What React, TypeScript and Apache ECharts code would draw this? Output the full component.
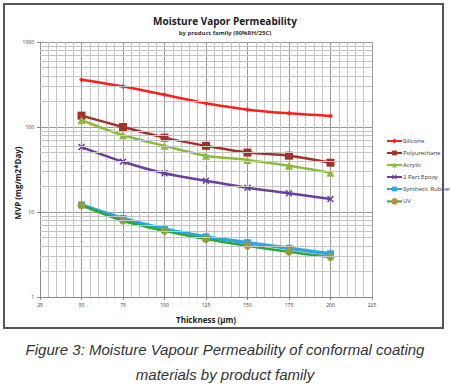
import React, { useEffect, useRef } from "react";
import * as echarts from "echarts";

const thickness = [50, 75, 100, 125, 150, 175, 200];
const silicone = [360, 300, 240, 190, 160, 145, 135];
const polyurethane = [136, 100, 75, 60, 50, 46, 38];
const acrylic = [120, 80, 60, 46, 41, 35, 29];
const epoxy = [58, 39, 28.5, 23.3, 19.3, 16.6, 14.2];
const syntheticRubber = [12.1, 8.4, 6.3, 5.1, 4.35, 3.74, 3.23];
const uv = [12, 7.9, 6.0, 4.8, 4.0, 3.4, 2.95];
const seriesNames = ["Silicone", "Polyurethane", "Acrylic", "2 Part Epoxy", "Synthetic Rubber", "UV"];
const minorLogValues = [2, 3, 4, 5, 6, 7, 8, 9, 20, 30, 40, 50, 60, 70, 80, 90, 200, 300, 400, 500, 600, 700, 800, 900];
const captionLines = ["Figure 3: Moisture Vapour Permeability of conformal coating", "materials by product family"];

const X_SYMBOL = "path://M0,1.5L1.5,0L5,3.5L8.5,0L10,1.5L6.5,5L10,8.5L8.5,10L5,6.5L1.5,10L0,8.5L3.5,5Z";

export default function App() {
  const ref = useRef<HTMLDivElement>(null);
  useEffect(() => {
    if (!ref.current) return;
    const chart = echarts.init(ref.current, null, { renderer: "svg" });
    const pair = (vals: number[]) => thickness.map((t, i) => [t, vals[i]]);
    const font = "'Open Sans', 'Liberation Sans', sans-serif";
    const mk = (name: string, vals: number[], color: string, symbol: string, size: number, width = 2.5) => ({
      name,
      type: "line",
      data: pair(vals),
      smooth: 0.3,
      symbol,
      symbolSize: size,
      lineStyle: { color, width },
      itemStyle: { color, borderColor: color, borderWidth: 0 },
      color,
      z: 3,
    });
    chart.setOption({
      animation: false,
      backgroundColor: "#ffffff",
      textStyle: { fontFamily: font },
      grid: { left: 40, right: 78, top: 42, bottom: 92 },
      title: [
        {
          text: "Moisture Vapor Permeability",
          left: "center",
          top: 11,
          textStyle: { fontSize: 10, fontWeight: "bold", color: "#222", fontFamily: font },
        },
        {
          text: "by product family (90%RH/25C)",
          left: "center",
          top: 25,
          textStyle: { fontSize: 6, fontWeight: "bold", color: "#333", fontFamily: font },
        },
      ],
      legend: {
        orient: "vertical",
        left: 381,
        top: 133,
        itemWidth: 15,
        itemHeight: 6,
        itemGap: 6,
        data: seriesNames,
        textStyle: { fontSize: 6, color: "#333", lineHeight: 6, padding: [0, 0, 0, -4] },
      },
      xAxis: {
        type: "value",
        min: 25,
        max: 225,
        interval: 25,
        axisLine: { show: true, lineStyle: { color: "#8a8a8a" } },
        axisTick: { show: true, length: 3, lineStyle: { color: "#8a8a8a" } },
        axisLabel: { fontSize: 5, color: "#333", margin: 5 },
        splitLine: { show: true, lineStyle: { color: "#9a9a9a", width: 1 } },
        minorTick: { show: false, splitNumber: 5 },
        minorSplitLine: { show: true, lineStyle: { color: "#c4c4c4", width: 1 } },
      },
      yAxis: {
        type: "log",
        logBase: 10,
        min: 1,
        max: 1000,
        axisLine: { show: true, lineStyle: { color: "#8a8a8a" } },
        axisTick: { show: true, length: 3, lineStyle: { color: "#8a8a8a" } },
        axisLabel: { fontSize: 5, color: "#333", margin: 6, formatter: (v: number) => String(Math.round(v)) },
        splitLine: { show: true, lineStyle: { color: "#9a9a9a", width: 1 } },
      },
      graphic: [
        {
          type: "rect",
          shape: { x: 4, y: 4, width: 439, height: 324 },
          style: { fill: "none", stroke: "#555555", lineWidth: 2 },
          z: 100,
        },
        {
          type: "text",
          x: 17,
          y: 183,
          rotation: Math.PI / 2,
          style: {
            text: "MVP (mg/m2*Day)",
            fontSize: 8,
            fontWeight: "bold",
            fontFamily: font,
            fill: "#222",
            align: "center",
            verticalAlign: "middle",
          },
        },
        {
          type: "text",
          x: 206,
          y: 319,
          style: {
            text: "Thickness (µm)",
            fontSize: 8,
            fontWeight: "bold",
            fontFamily: font,
            fill: "#222",
            align: "center",
            verticalAlign: "middle",
          },
        },
        {
          type: "text",
          x: 225,
          y: 349,
          style: {
            text: captionLines[0],
            fontSize: 15,
            fontStyle: "italic",
            fontFamily: "'Liberation Sans', sans-serif",
            fill: "#333333",
            align: "center",
            verticalAlign: "middle",
          },
        },
        {
          type: "text",
          x: 225,
          y: 374,
          style: {
            text: captionLines[1],
            fontSize: 15,
            fontStyle: "italic",
            fontFamily: "'Liberation Sans', sans-serif",
            fill: "#333333",
            align: "center",
            verticalAlign: "middle",
          },
        },
      ],
      series: [
        {
          name: "_grid",
          type: "line",
          data: [],
          silent: true,
          z: 1,
          markLine: {
            silent: true,
            symbol: ["none", "none"],
            label: { show: false },
            lineStyle: { color: "#c4c4c4", width: 1, type: "solid" },
            data: minorLogValues.map((v) => ({ yAxis: v })),
          },
        },
        mk("Silicone", silicone, "#ff1f1f", "diamond", 5),
        mk("Polyurethane", polyurethane, "#a3302b", "rect", 8),
        mk("Acrylic", acrylic, "#8cba3c", "triangle", 8),
        mk("2 Part Epoxy", epoxy, "#6a3fa0", X_SYMBOL, 7),
        mk("Synthetic Rubber", syntheticRubber, "#2aa8e2", "rect", 7, 3.5),
        {
          ...mk("UV", uv, "#2ea83e", "circle", 7),
          itemStyle: { color: "#7aa83a", borderColor: "#d0893a", borderWidth: 1 },
        },
      ],
    });
    return () => chart.dispose();
  }, []);
  return (
    <div style={{ position: "fixed", left: 0, top: 0, width: 450, height: 389, background: "#fff" }}>
      <div ref={ref} style={{ width: 450, height: 389 }} />
    </div>
  );
}
